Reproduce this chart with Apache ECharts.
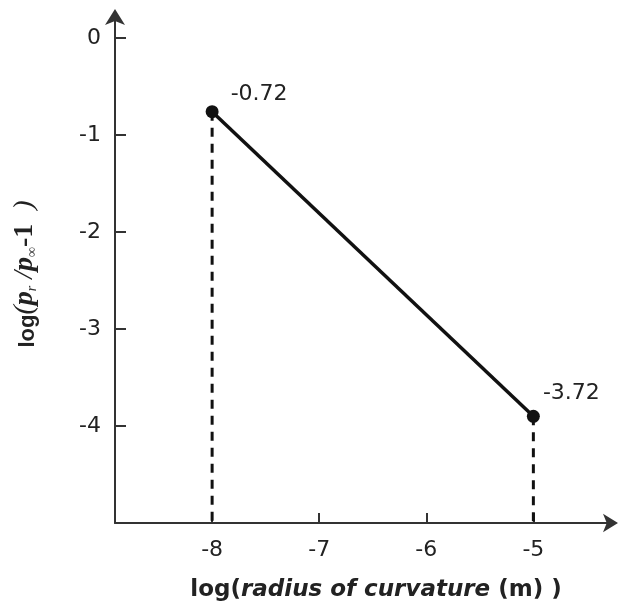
<!DOCTYPE html>
<html>
<head>
<meta charset="utf-8">
<script src="https://cdn.jsdelivr.net/npm/echarts@6/dist/echarts.min.js"></script>
<style>
html,body{margin:0;padding:0;background:#fff;}
#main{width:618px;height:607px;}
</style>
</head>
<body>
<div id="main"></div>
<script>
// Data
const xValues = [-8, -5];
const yValues = [-0.76, -3.9];
const pointLabels = ['-0.72', '-3.72'];
const xTickValues = [-8, -7, -6, -5];
const yTickValues = [0, -1, -2, -3, -4];
const yFloor = -5;

// Styles
const labelOffsets = [[47, -17], [38, -23]];
const ink = '#111';
const axisColor = '#333';
const sansFont = 'DejaVu Sans, Liberation Sans, Arial, sans-serif';
const serifFont = 'Liberation Serif, Times New Roman, serif';

const lineData = xValues.map((x, i) => ({
  value: [x, yValues[i]],
  label: { show: true, formatter: pointLabels[i], position: 'inside', offset: labelOffsets[i] }
}));

const dropSeries = xValues.map((x, i) => ({
  type: 'line',
  data: [[x, yValues[i]], [x, yFloor]],
  symbol: 'none',
  silent: true,
  z: 1,
  lineStyle: { color: ink, width: 3, type: [9, 7] }
}));

const chart = echarts.init(document.getElementById('main'), null, { renderer: 'canvas' });
chart.setOption({
  animation: false,
  backgroundColor: '#fff',
  grid: { left: 115, right: 7, top: 17, bottom: 82, containLabel: false },
  xAxis: {
    type: 'value',
    min: -8.907,
    max: -4.275,
    splitLine: { show: false },
    axisLine: { show: true, onZero: false, lineStyle: { color: axisColor, width: 2 }, symbol: ['none', 'arrow'], symbolSize: [14, 15], symbolOffset: [0, 7] },
    axisTick: { show: true, inside: true, length: 10, lineStyle: { color: axisColor, width: 2 }, customValues: xTickValues },
    axisLabel: { show: true, margin: 16, color: '#222', fontSize: 22, fontFamily: sansFont, customValues: xTickValues },
    name: '{a|log(}{b|radius of curvature}{a| (m) )}',
    nameLocation: 'middle',
    nameGap: 56,
    nameTextStyle: {
      padding: [0, 0, 0, 26],
      rich: {
        a: { fontSize: 23, fontWeight: 'bold', fontFamily: sansFont, color: '#222' },
        b: { fontSize: 23, fontWeight: 'bold', fontStyle: 'italic', fontFamily: sansFont, color: '#222' }
      }
    }
  },
  yAxis: {
    type: 'value',
    min: yFloor,
    max: 0.216,
    splitLine: { show: false },
    axisLine: { show: true, onZero: false, lineStyle: { color: axisColor, width: 2 }, symbol: ['none', 'arrow'], symbolSize: [15, 16], symbolOffset: [0, 8] },
    axisTick: { show: true, inside: true, length: 11, lineStyle: { color: axisColor, width: 2 }, customValues: yTickValues },
    axisLabel: { show: true, margin: 14, color: '#222', fontSize: 22, fontFamily: sansFont, customValues: yTickValues },
    name: '{a|log}{s|(}{p|p}{sub|r}{s| /}{p|p}{sub|∞}{m|-1}{s|  )}',
    nameLocation: 'middle',
    nameRotate: 90,
    nameGap: 76,
    nameTextStyle: {
      padding: [0, 8, 0, 0],
      rich: {
        a: { fontSize: 22, fontWeight: 'bold', fontFamily: 'Liberation Sans, Arial, sans-serif', color: '#222', lineHeight: 30, verticalAlign: 'bottom' },
        s: { fontSize: 28, fontStyle: 'italic', fontFamily: serifFont, color: '#222', lineHeight: 30, verticalAlign: 'bottom' },
        p: { fontSize: 28, fontWeight: 'bold', fontStyle: 'italic', fontFamily: serifFont, color: '#222', lineHeight: 30, verticalAlign: 'bottom' },
        m: { fontSize: 28, fontWeight: 'bold', fontFamily: serifFont, color: '#222', lineHeight: 30, verticalAlign: 'bottom' },
        sub: { fontSize: 14, fontStyle: 'italic', fontFamily: serifFont, color: '#333', lineHeight: 24, verticalAlign: 'bottom' }
      }
    }
  },
  series: [
    ...dropSeries,
    {
      type: 'line',
      data: lineData,
      symbol: 'circle',
      symbolSize: 13,
      z: 3,
      itemStyle: { color: ink },
      lineStyle: { color: ink, width: 3.5 },
      label: { color: '#222', fontSize: 22, fontFamily: sansFont }
    }
  ]
});
</script>
</body>
</html>
